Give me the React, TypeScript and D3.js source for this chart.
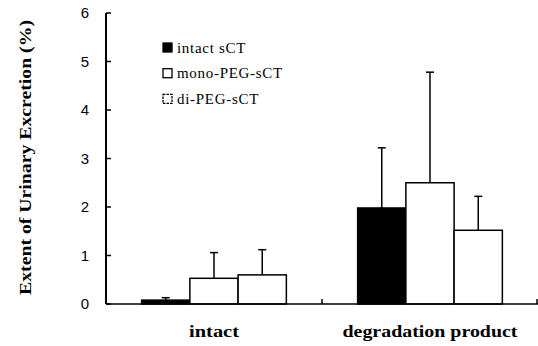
import React from "react";
import * as d3 from "d3";

const groups = ["intact", "degradation product"];
const seriesNames = ["intact sCT", "mono-PEG-sCT", "di-PEG-sCT"];
// mean values per series, order matches groups
const intactSCT = [0.08, 1.98];
const monoPEG = [0.53, 2.5];
const diPEG = [0.6, 1.52];
// upper error bar ends
const intactSCTErr = [0.13, 3.22];
const monoPEGErr = [1.06, 4.78];
const diPEGErr = [1.12, 2.22];
const yTicks = [0, 1, 2, 3, 4, 5, 6];

const W = 538;
const H = 346;
const left = 106;
const right = 538;
const top = 13;
const bottom = 304;

const App = () => {
  const values = [intactSCT, monoPEG, diPEG];
  const errs = [intactSCTErr, monoPEGErr, diPEGErr];

  const y = d3.scaleLinear().domain([0, 6]).range([bottom, top]);
  const x0 = d3
    .scaleBand<string>()
    .domain(groups)
    .range([left, right])
    .paddingInner(0.33)
    .paddingOuter(0.165);
  const x1 = d3
    .scaleBand<string>()
    .domain(seriesNames)
    .range([0, x0.bandwidth()]);

  const fills = ["#000", "#fff", "#fff"];
  const serif = "'Liberation Serif', 'Times New Roman', serif";
  const sans = "'Liberation Sans Narrow', 'Liberation Sans', Arial, sans-serif";
  const labelLen = [50, 175];

  // group boundary ticks on x axis
  const step = x0.step();
  const groupEdges = groups.map((g) => (x0(g) as number) - x0.paddingOuter() * step + step);

  return (
    <svg
      width={W}
      height={H}
      style={{ position: "absolute", left: 0, top: 0, background: "#fff" }}
    >
      {/* bars */}
      {groups.map((g, gi) =>
        seriesNames.map((s, si) => {
          const bx = (x0(g) as number) + (x1(s) as number);
          const bw = x1.bandwidth();
          const v = values[si][gi];
          const e = errs[si][gi];
          const cx = bx + bw / 2;
          return (
            <g key={g + s}>
              <line x1={cx} x2={cx} y1={y(v)} y2={y(e)} stroke="#000" strokeWidth={1.5} />
              <line x1={cx - 4} x2={cx + 4} y1={y(e)} y2={y(e)} stroke="#000" strokeWidth={1.5} />
              <rect
                x={bx}
                y={y(v)}
                width={bw}
                height={bottom - y(v)}
                fill={fills[si]}
                stroke="#000"
                strokeWidth={1.5}
              />
            </g>
          );
        })
      )}

      {/* y axis */}
      <line x1={left} x2={left} y1={top} y2={bottom} stroke="#000" strokeWidth={2} />
      {yTicks.map((t) => (
        <g key={t}>
          <line x1={left} x2={left + 5} y1={y(t)} y2={y(t)} stroke="#000" strokeWidth={1.5} />
          <text
            x={89}
            y={y(t)}
            dy="0.36em"
            textAnchor="end"
            fontFamily={sans}
            fontSize={15}
          >
            {t}
          </text>
        </g>
      ))}

      {/* x axis */}
      <line x1={left} x2={right} y1={bottom} y2={bottom} stroke="#000" strokeWidth={1.5} />
      {groupEdges.map((ex, i) => (
        <line
          key={i}
          x1={Math.min(ex, right - 1)}
          x2={Math.min(ex, right - 1)}
          y1={bottom}
          y2={bottom - 5}
          stroke="#000"
          strokeWidth={1.5}
        />
      ))}
      {groups.map((g, i) => (
        <text
          key={g}
          x={(x0(g) as number) + x0.bandwidth() / 2}
          y={337}
          textAnchor="middle"
          fontFamily={serif}
          fontWeight="bold"
          fontSize={17}
          textLength={labelLen[i]}
          lengthAdjust="spacingAndGlyphs"
        >
          {g}
        </text>
      ))}

      {/* y label */}
      <text
        transform={`translate(31, ${(20 + 295) / 2}) rotate(-90)`}
        textAnchor="middle"
        fontFamily={serif}
        fontWeight="bold"
        fontSize={16}
        textLength={275}
        lengthAdjust="spacingAndGlyphs"
      >
        Extent of Urinary Excretion (%)
      </text>

      {/* legend */}
      {seriesNames.map((s, i) => (
        <g key={s} transform={`translate(163, ${47.5 + i * 25.7})`}>
          <rect
            x={0}
            y={-4.5}
            width={9}
            height={9}
            fill={fills[i]}
            stroke="#000"
            strokeWidth={1.3}
            strokeDasharray={i === 2 ? "2.5,1" : undefined}
          />
          <text x={14} y={0} dy="0.35em" fontFamily={serif} fontSize={15} letterSpacing={0.7}>
            {s}
          </text>
        </g>
      ))}
    </svg>
  );
};

export default App;
